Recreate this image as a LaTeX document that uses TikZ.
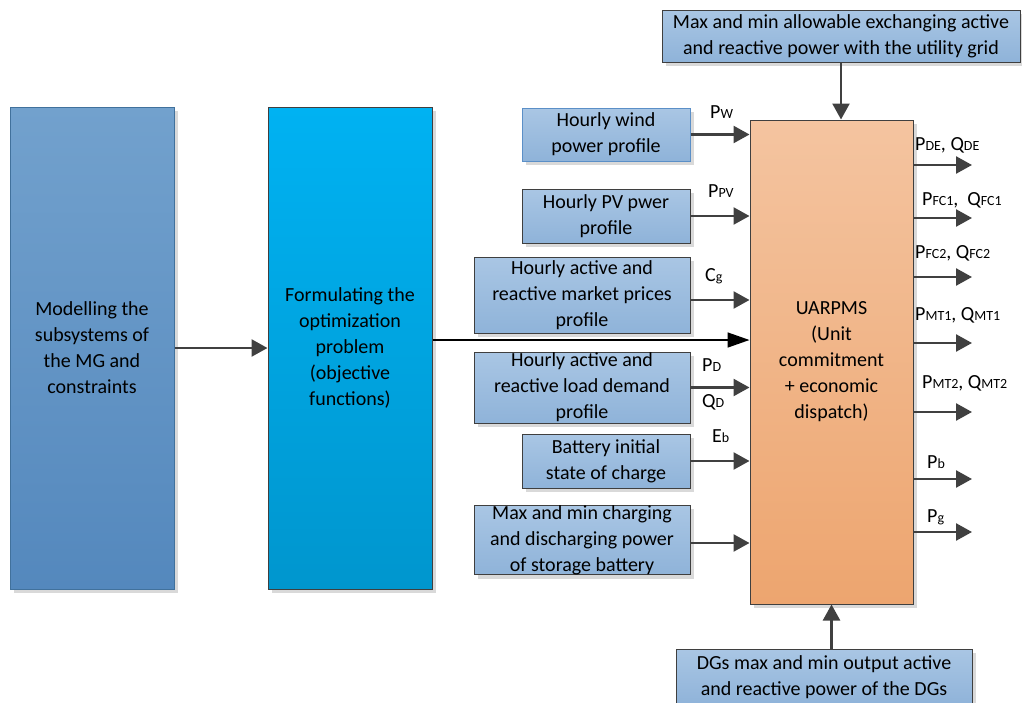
\documentclass[tikz,border=0pt]{standalone}
\usepackage{fontspec}
\setmainfont{Carlito}
\usetikzlibrary{arrows.meta,shadows}

\definecolor{arrgray}{HTML}{404040}
\definecolor{boxline}{HTML}{3F3F3F}
\definecolor{windline}{HTML}{5B8FC7}
\definecolor{inboxtop}{HTML}{A9C6E4}
\definecolor{inboxbot}{HTML}{8FB3D9}
\definecolor{modtop}{HTML}{72A1CD}
\definecolor{modbot}{HTML}{5488BD}
\definecolor{modline}{HTML}{41719C}
\definecolor{formtop}{HTML}{00B2F2}
\definecolor{formbot}{HTML}{0096CE}
\definecolor{upstop}{HTML}{F4C4A0}
\definecolor{upsbot}{HTML}{EDA56F}
\definecolor{shadowgray}{HTML}{D9D9D9}

% small lowered index, as in P_W
\newcommand{\lowsub}[1]{\raisebox{-0.8pt}{\fontsize{14}{14}\selectfont #1}}

\begin{document}
\begin{tikzpicture}[x=1pt,y=-1pt,
		every node/.style={font=\fontsize{20}{26}\selectfont},
		box/.style={draw=boxline, line width=1pt, inner sep=0pt, align=center,
			drop shadow={shadow xshift=4pt, shadow yshift=-4pt, fill=shadowgray, opacity=1}},
		inbox/.style={box, top color=inboxtop, bottom color=inboxbot},
		lbl/.style={anchor=base west, inner sep=0pt},
		arr/.style={draw=arrgray, line width=2.5pt, -{Triangle[length=16pt,width=17pt]}},
		blackarr/.style={draw=black, line width=1.6pt, -{Triangle[length=22pt,width=15pt]}}]
		\useasboundingbox (0,0) rectangle (1022,702);

		% The two tall boxes on the left
		\node[box, draw=modline, top color=modtop, bottom color=modbot, minimum width=164pt, minimum height=482pt] (model) at (92,348) {Modelling the\\subsystems of\\the MG and\\constraints};
		\node[box, top color=formtop, bottom color=formbot, minimum width=164pt, minimum height=482pt] (form) at (350,348) {Formulating the\\optimization\\problem\\(objective\\functions)};

		% The central scheduling block
		\node[box, top color=upstop, bottom color=upsbot, minimum width=163pt, minimum height=484pt] (ups) at (831.5,362) {UARPMS\\(Unit\\commitment\\+ economic\\dispatch)};

		% Input data boxes
		\node[inbox, draw=windline, minimum width=168pt, minimum height=53pt] (wind) at (606,134.5) {Hourly wind\\power profile};
		\node[inbox, minimum width=168pt, minimum height=54pt] (pv) at (606,216) {Hourly PV pwer\\profile};
		\node[inbox, minimum width=216pt, minimum height=76pt] (price) at (582,295) {Hourly active and\\reactive market prices\\profile};
		\node[inbox, minimum width=216pt, minimum height=71pt] (load) at (582,387.5) {Hourly active and\\reactive load demand\\profile};
		\node[inbox, minimum width=168pt, minimum height=54pt] (batt) at (606,461) {Battery initial\\state of charge};
		\node[inbox, minimum width=216pt, minimum height=66pt] (charge) at (582,540) {Max and min charging\\and discharging power\\of storage battery};

		% Limits from above and below
		\node[inbox, minimum width=358pt, minimum height=52pt] (grid) at (841,36) {Max and min allowable exchanging active\\and reactive power with the utility grid};
		\node[inbox, minimum width=296pt, minimum height=56pt] (dg) at (824,677) {DGs max and min output active\\and reactive power of the DGs};

		% Left chain
		\draw[arr] (model) -- (form);
		\draw[blackarr] ([yshift=8pt]form.east) -- ([yshift=8pt]form.east -| ups.west);

		% Inputs into the block
		\draw[arr] (wind.east) -- (wind.east -| ups.west);
		\draw[arr] (pv.east) -- (pv.east -| ups.west);
		\draw[arr] ([yshift=-5pt]price.east) -- ([yshift=-5pt]price.east -| ups.west);
		\draw[arr] (load.east) -- (load.east -| ups.west);
		\draw[arr] (batt.east) -- (batt.east -| ups.west);
		\draw[arr] ([yshift=-3pt]charge.east) -- ([yshift=-3pt]charge.east -| ups.west);
		\draw[arr] (grid.south) -- (grid.south |- ups.north);
		\draw[arr] (dg.north -| ups) -- (ups.south);

		% Input labels
		\node[lbl] (lpw) at (710,118) {P\lowsub{W}};
		\node[lbl] (lppv) at (708,197) {P\lowsub{PV}};
		\node[lbl] (lcg) at (705,281) {C\lowsub{g}};
		\node[lbl] (lpd) at (702,371) {P\lowsub{D}};
		\node[lbl] (lqd) at (702,407) {Q\lowsub{D}};
		\node[lbl] (leb) at (712,442) {E\lowsub{b}};

		% Output ends
		\coordinate (out1) at (972,165);
		\coordinate (out2) at (972,218);
		\coordinate (out3) at (972,277);
		\coordinate (out4) at (972,343);
		\coordinate (out5) at (972,412);
		\coordinate (out6) at (972,479);
		\coordinate (out7) at (972,532);

		% Outputs of the block
		\draw[arr] (out1 -| ups.east) -- (out1);
		\draw[arr] (out2 -| ups.east) -- (out2);
		\draw[arr] (out3 -| ups.east) -- (out3);
		\draw[arr] (out4 -| ups.east) -- (out4);
		\draw[arr] (out5 -| ups.east) -- (out5);
		\draw[arr] (out6 -| ups.east) -- (out6);
		\draw[arr] (out7 -| ups.east) -- (out7);

		% Output labels
		\node[lbl] (lde) at (915,150) {P\lowsub{DE}, Q\lowsub{DE}};
		\node[lbl] (lfc1) at (922,205) {P\lowsub{FC1}, \ Q\lowsub{FC1}};
		\node[lbl] (lfc2) at (915,258) {P\lowsub{FC2}, Q\lowsub{FC2}};
		\node[lbl] (lmt1) at (915,320) {P\lowsub{MT1}, Q\lowsub{MT1}};
		\node[lbl] (lmt2) at (922,388) {P\lowsub{MT2}, Q\lowsub{MT2}};
		\node[lbl] (lpb) at (927,468) {P\lowsub{b}};
		\node[lbl] (lpg) at (927,522) {P\lowsub{g}};
	\end{tikzpicture}
\end{document}
